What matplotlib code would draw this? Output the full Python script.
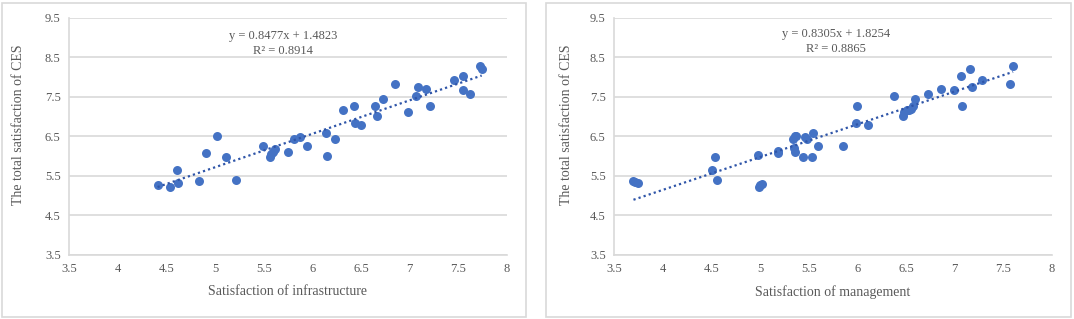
import matplotlib
matplotlib.use("Agg")
from matplotlib import pyplot as plt
from matplotlib.patches import Rectangle

# data
infra_x = [4.41, 4.54, 4.61, 4.62, 4.84, 4.91, 5.02, 5.11, 5.22, 5.49, 5.56, 5.58, 5.60, 5.62,
           5.75, 5.81, 5.87, 5.95, 6.14, 6.15, 6.23, 6.31, 6.43, 6.44, 6.50, 6.64, 6.66, 6.73,
           6.85, 6.98, 7.06, 7.09, 7.17, 7.21, 7.46, 7.55, 7.55, 7.62, 7.72, 7.74]
infra_y = [5.28, 5.22, 5.64, 5.32, 5.38, 6.07, 6.50, 5.99, 5.40, 6.25, 5.98, 6.05, 6.11, 6.18,
           6.11, 6.43, 6.48, 6.26, 6.60, 6.01, 6.44, 7.16, 7.28, 6.84, 6.78, 7.26, 7.02, 7.44,
           7.84, 7.12, 7.52, 7.75, 7.71, 7.26, 7.93, 8.03, 7.67, 7.58, 8.29, 8.20]

manage_x = [3.70, 3.72, 3.75, 4.51, 4.54, 4.56, 4.98, 4.99, 5.00, 5.02, 5.18, 5.18, 5.34, 5.36,
            5.35, 5.36, 5.37, 5.44, 5.46, 5.48, 5.53, 5.54, 5.60, 5.85, 6.00, 5.99, 6.11, 6.38,
            6.47, 6.48, 6.51, 6.53, 6.55, 6.57, 6.59, 6.73, 6.86, 6.99, 7.07, 7.08, 7.16, 7.18,
            7.28, 7.57, 7.60]
manage_y = [5.38, 5.34, 5.32, 5.65, 5.99, 5.41, 6.02, 5.21, 5.26, 5.29, 6.13, 6.07, 6.44, 6.50,
            6.20, 6.11, 6.50, 5.99, 6.48, 6.44, 5.99, 6.60, 6.26, 6.26, 7.28, 6.84, 6.78, 7.52,
            7.02, 7.12, 7.16, 7.16, 7.20, 7.26, 7.44, 7.58, 7.71, 7.67, 8.03, 7.26, 8.20, 7.75,
            7.93, 7.84, 8.29]

x_labels = ["Satisfaction of infrastructure", "Satisfaction of management"]
y_label = "The total satisfaction of CES"
slopes = [0.8477, 0.8305]
intercepts = [1.4823, 1.8254]
r2 = [0.8914, 0.8865]
eq_pos = [(5.70, 9.04, 8.66), (5.78, 9.09, 8.71)]

x_ticks = [3.5, 4, 4.5, 5, 5.5, 6, 6.5, 7, 7.5, 8]
y_ticks = [3.5, 4.5, 5.5, 6.5, 7.5, 8.5, 9.5]

plt.rcParams['font.family'] = ['Liberation Serif', 'DejaVu Serif']
blue = "#4472C4"
line_blue = "#2F55A8"
grey = "#D9D9D9"
txt = "#595959"

fig = plt.figure(figsize=(10.74, 3.19), dpi=100)

# panel frames (pixels -> figure fraction)
W, H = 1074, 319
for x0, x1 in [(2, 526), (546, 1071)]:
    fig.patches.append(Rectangle((x0 / W, 2 / H), (x1 - x0) / W, (316 - 2) / H,
                                 transform=fig.transFigure, fill=False,
                                 edgecolor=grey, linewidth=1.2))

axes_px = [(69, 507), (614, 1052)]
ylabel_x = [-0.10, -0.094]
datasets = [(infra_x, infra_y), (manage_x, manage_y)]

for i in range(2):
    l, r = axes_px[i]
    ax = fig.add_axes([l / W, 1 - 255 / H, (r - l) / W, (255 - 18) / H])
    xs, ys = datasets[i]
    ax.scatter(xs, ys, s=42, color=blue, zorder=3, linewidths=0)
    x0, x1 = min(xs), max(xs)
    ax.plot([x0, x1], [slopes[i] * x0 + intercepts[i], slopes[i] * x1 + intercepts[i]],
            color=line_blue, linewidth=1.6, linestyle=(0, (1, 1.4)), zorder=4)
    ax.set_xlim(3.5, 8)
    ax.set_ylim(3.5, 9.5)
    ax.set_xticks(x_ticks)
    ax.set_xticklabels([("%g" % t) for t in x_ticks])
    ax.set_yticks(y_ticks)
    ax.set_yticklabels([("%g" % t) for t in y_ticks])
    ax.tick_params(length=0, labelsize=9, colors=txt, pad=6)
    ax.grid(axis='y', color=grey, linewidth=1.2)
    ax.set_axisbelow(True)
    for s in ['top', 'right']:
        ax.spines[s].set_visible(False)
    for s in ['left', 'bottom']:
        ax.spines[s].set_color(grey)
        ax.spines[s].set_linewidth(1.2)
    ex, ey1, ey2 = eq_pos[i]
    ax.text(ex, ey1, "y = %.4fx + %.4f" % (slopes[i], intercepts[i]), ha='center',
            va='center', fontsize=9, color=txt)
    ax.text(ex, ey2, "R² = %.4f" % r2[i], ha='center', va='center', fontsize=9, color=txt)
    ax.set_xlabel(x_labels[i], fontsize=10, color=txt, labelpad=7)
    ax.set_ylabel(y_label, fontsize=10, color=txt)
    ax.yaxis.set_label_coords(ylabel_x[i], 0.55)

fig.savefig("out.png", dpi=100)
